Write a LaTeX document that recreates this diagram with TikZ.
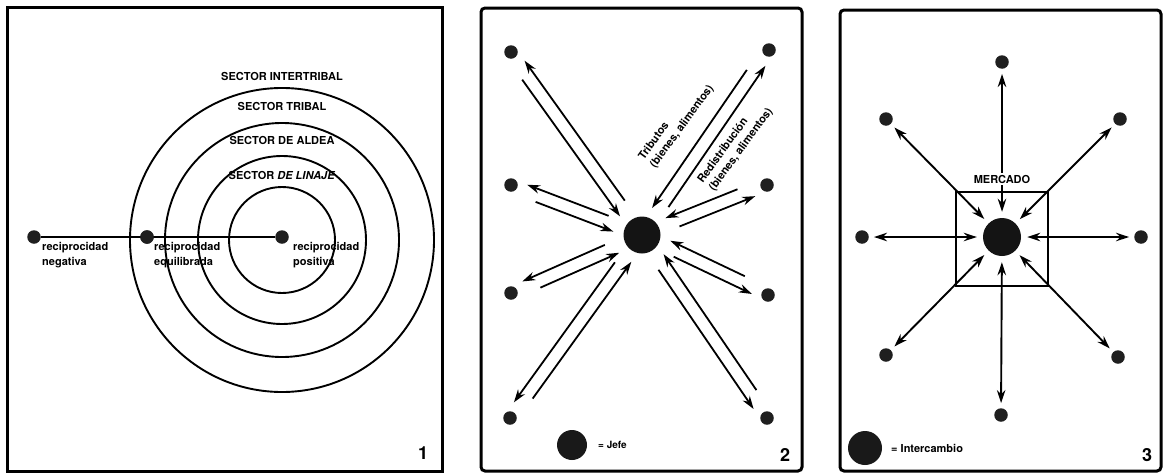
\documentclass[tikz,border=0pt]{standalone}
\usepackage{fontspec}
\setmainfont{TeX Gyre Heros}
\usetikzlibrary{calc,arrows.meta}
\begin{document}
\begin{tikzpicture}[x=1pt,y=-1pt,
  frame/.style={line width=3pt},
  dot/.style={circle,fill=black!88,minimum size=13.5pt,inner sep=0pt},
  hub/.style={circle,fill=black!92,minimum size=37pt,inner sep=0pt},
  legdot/.style={circle,fill=black!90,inner sep=0pt},
  lbl/.style={font=\bfseries\fontsize{11}{15}\selectfont,inner sep=0pt},
  rlbl/.style={font=\bfseries\fontsize{11}{14}\selectfont,inner sep=0pt,rotate=54,anchor=west,align=left},
  num/.style={font=\bfseries\fontsize{18}{18}\selectfont,inner sep=0pt},
  ring/.style={line width=1.9pt},
  link/.style={line width=2.4pt},
  arr/.style={line width=1.8pt,-{Stealth[length=13pt,width=8.5pt]}},
  dbl/.style={line width=1.9pt,{Stealth[length=13pt,width=8.5pt]}-{Stealth[length=13pt,width=8.5pt]},shorten <=6pt,shorten >=5pt}
]
\useasboundingbox (0,0) rectangle (1169,474);

% ---------------- Panel 1
\draw[frame] (7,7) rectangle (442,471);
\node[dot] (neg) at (34,237) {};
\node[dot] (equ) at (147,237) {};
\node[dot] (pos) at (282,237) {};
\foreach \r in {53,84,117,152} \draw[ring] ($(pos)+(0,3)$) circle[radius=\r];
\draw[link] (neg) -- (pos);
\node[dot] at (equ) {};
\node[lbl,align=left,anchor=north west] (tneg) at (42,242) {reciprocidad\\negativa};
\node[lbl,align=left,anchor=north west] (tequ) at (154,242) {reciprocidad\\equilibrada};
\node[lbl,align=left,anchor=north west] (tpos) at (293,242) {reciprocidad\\positiva};
\node[lbl] (s4) at (282,76) {SECTOR INTERTRIBAL};
\node[lbl] (s3) at (282,106) {SECTOR TRIBAL};
\node[lbl] (s2) at (282,140) {SECTOR DE ALDEA};
\node[lbl] (s1) at (282,175) {SECTOR \textit{DE LINAJE}};
\node[num] (n1) at (423,453) {1};

% ---------------- Panel 2
\draw[frame,rounded corners=4pt] (481,8) rectangle (802,471);
\node[hub] (jefe) at (642,235) {};
\node[dot] (a1) at (511,52) {};
\node[dot] (a2) at (769,50) {};
\node[dot] (a3) at (511,185) {};
\node[dot] (a4) at (767,185) {};
\node[dot] (a5) at (511,293) {};
\node[dot] (a6) at (768,295) {};
\node[dot] (a7) at (510,418) {};
\node[dot] (a8) at (767,418) {};
\foreach \i in {1,...,8} {
  \draw[arr] ($(jefe)!38pt!(a\i)!6pt!-90:(a\i)$) -- ($(a\i)!15pt!(jefe)!6pt!90:(jefe)$);
  \draw[arr] ($(a\i)!29pt!(jefe)!7pt!-90:(jefe)$) -- ($(jefe)!28pt!(a\i)!7pt!90:(a\i)$);
}
\node[rlbl] (trib) at (647,163) {Tributos\\(bienes, alimentos)};
\node[rlbl] (redis) at (706,186) {Redistribución\\(bienes, alimentos)};
\node[legdot,minimum size=30pt] (leg2) at (572,445) {};
\node[lbl,anchor=west,font=\bfseries\fontsize{10}{12}\selectfont] (leg2t) at (598,445) {= Jefe};
\node[num] (n2) at (785,455) {2};

% ---------------- Panel 3
\draw[frame,rounded corners=4pt] (840,10) rectangle (1161,471);
\node[draw,line width=1.8pt,minimum width=92pt,minimum height=94pt,inner sep=0pt] (sq) at (1002,239) {};
\node[hub,minimum size=38pt] (mkt) at (1002,237) {};
\node[dot] (b1) at (1002,62) {};
\node[dot] (b2) at (1120,119) {};
\node[dot] (b3) at (1141,237) {};
\node[dot] (b4) at (1118,357) {};
\node[dot] (b5) at (1001,415) {};
\node[dot] (b6) at (886,355) {};
\node[dot] (b7) at (862,237) {};
\node[dot] (b8) at (886,119) {};
\foreach \i in {1,...,8} \draw[dbl] (mkt) -- (b\i);
\node[lbl,fill=white,inner sep=1.5pt] (merc) at (1002,179) {MERCADO};
\node[legdot,minimum size=34pt] (leg3) at (865,448) {};
\node[lbl,anchor=west] (leg3t) at (891,448) {= Intercambio};
\node[num] (n3) at (1147,455) {3};
\end{tikzpicture}
\end{document}
